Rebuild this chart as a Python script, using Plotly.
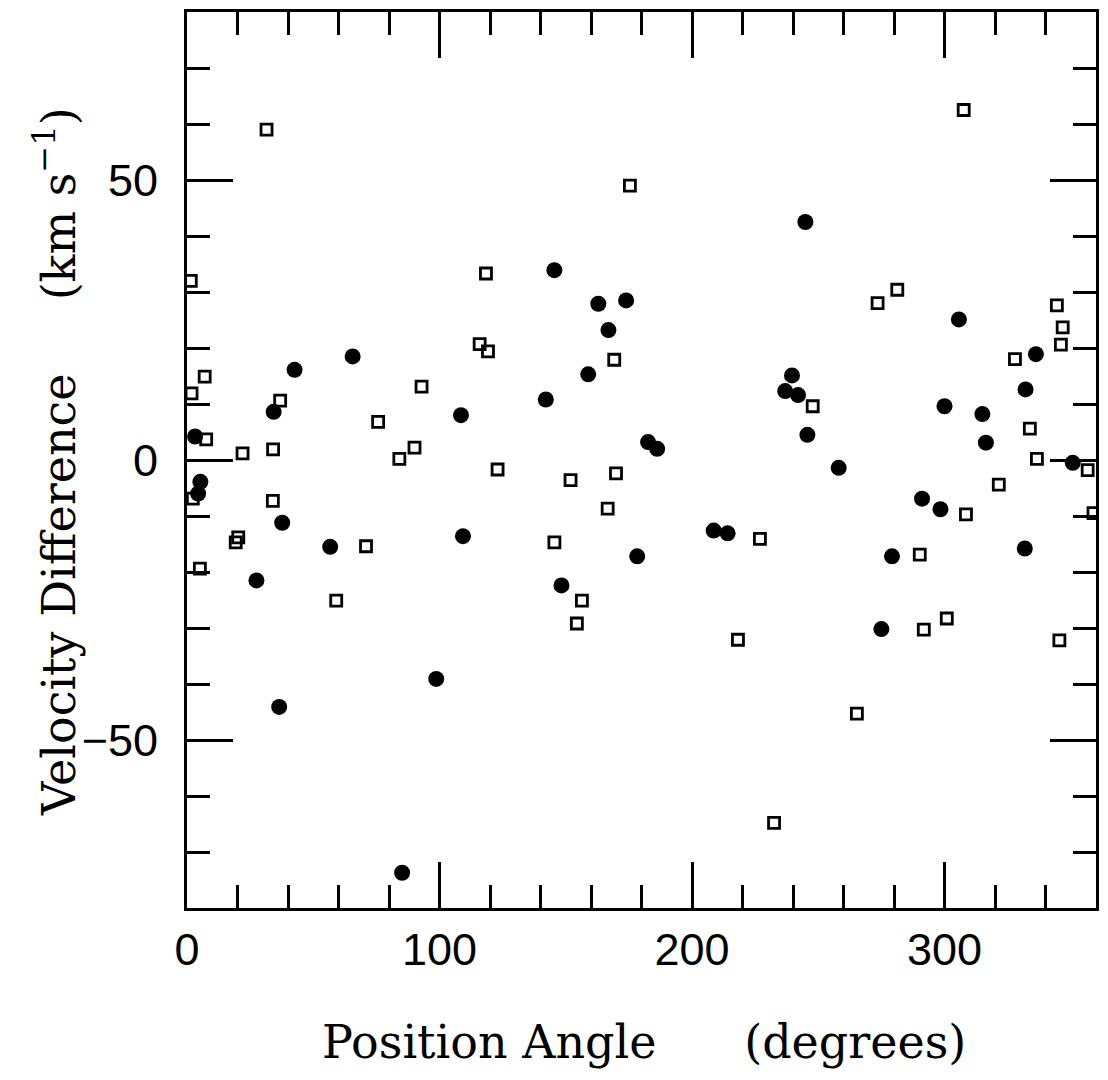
import plotly.graph_objects as go

# open squares
sq_angle = [31.5, 175.4, 1.5, 118.4, 115.9, 119.2, 7.0, 1.8, 36.9, 92.9,
            169.2, 75.7, 7.6, 22.0, 34.1, 90.1, 84.1, 123.0, 151.9, 169.9,
            34.0, 2.3, 5.1, 20.3, 19.3, 70.9, 59.1, 166.6, 145.5, 156.4,
            154.4, 226.9, 218.2, 232.5, 265.3, 308.5, 321.5, 359.0, 290.2, 291.8,
            300.9, 345.5, 307.6, 281.3, 273.5, 344.5, 346.8, 346.1, 327.9, 247.8,
            333.8, 336.6, 356.7]
sq_dv = [59.0, 49.0, 32.0, 33.3, 20.7, 19.4, 14.9, 11.9, 10.6, 13.1,
         17.9, 6.8, 3.7, 1.2, 1.9, 2.2, 0.2, -1.7, -3.6, -2.4,
         -7.3, -6.9, -19.4, -13.8, -14.7, -15.4, -25.1, -8.7, -14.7, -25.1,
         -29.2, -14.1, -32.1, -64.8, -45.3, -9.7, -4.4, -9.5, -16.9, -30.3,
         -28.3, -32.2, 62.5, 30.4, 28.0, 27.6, 23.7, 20.6, 18.0, 9.6,
         5.6, 0.2, -1.8]

# filled circles
dot_angle = [145.5, 162.9, 173.9, 166.9, 158.9, 142.1, 108.5, 65.6, 42.6, 34.3,
             3.2, 182.6, 186.2, 5.3, 4.4, 37.7, 56.7, 109.3, 27.5, 98.7,
             36.5, 85.2, 178.3, 148.3, 208.6, 214.1, 291.1, 298.4, 279.2, 331.8,
             275.0, 244.9, 305.7, 336.2, 239.6, 236.9, 242.0, 245.7, 258.1, 300.0,
             315.0, 332.1, 316.4, 350.8]
dot_dv = [33.9, 27.9, 28.5, 23.2, 15.3, 10.8, 8.0, 18.5, 16.1, 8.6,
          4.2, 3.2, 2.0, -3.9, -6.0, -11.2, -15.5, -13.6, -21.5, -39.1,
          -44.1, -73.7, -17.2, -22.4, -12.6, -13.1, -6.9, -8.8, -17.2, -15.8,
          -30.2, 42.5, 25.1, 18.9, 15.1, 12.3, 11.6, 4.5, -1.4, 9.6,
          8.2, 12.6, 3.1, -0.5]

fig = go.Figure()

fig.add_trace(go.Scatter(x=sq_angle, y=sq_dv, mode='markers',
                         marker=dict(symbol='square-open', size=11, color='black',
                                     line=dict(width=2.8, color='black'))))
fig.add_trace(go.Scatter(x=dot_angle, y=dot_dv, mode='markers',
                         marker=dict(symbol='circle', size=16, color='black',
                                     line=dict(width=0))))

axis_style = dict(showline=True, linewidth=3, linecolor='black', mirror='ticks',
                  ticks='inside', ticklen=46, tickwidth=3, tickcolor='black',
                  showgrid=False, zeroline=False,
                  tickfont=dict(family='Liberation Sans', size=45, color='black'))

fig.update_xaxes(range=[0, 360], tick0=0, dtick=100,
                 minor=dict(dtick=20, ticks='inside', ticklen=23, tickwidth=3, tickcolor='black'),
                 **axis_style)
fig.update_yaxes(range=[-80, 80], tick0=0, dtick=50, ticklabelstandoff=17,
                 minor=dict(dtick=10, ticks='inside', ticklen=23, tickwidth=3, tickcolor='black'),
                 **axis_style)

title_font = dict(family='DejaVu Serif', size=46, color='black')
sp = '\u00a0'
fig.add_annotation(text='Position' + sp + 'Angle' + sp * 6 + '(degrees)',
                   xref='paper', yref='paper', x=0.503, y=-0.150,
                   xanchor='center', yanchor='middle', showarrow=False, font=title_font)
fig.add_annotation(text='Velocity' + sp + 'Difference' + sp * 5 + '(km' + sp + 's<sup>−1</sup>)',
                   xref='paper', yref='paper', x=-0.145, y=0.498, textangle=-90,
                   xanchor='center', yanchor='middle', showarrow=False, font=title_font)

# the page body keeps an 8px margin, so the figure is sized to fit inside the window
fig.update_layout(width=1092, height=1064, showlegend=False,
                  margin=dict(l=179, r=1, t=2, b=164),
                  paper_bgcolor='white', plot_bgcolor='white')

fig.write_html("out.html")
